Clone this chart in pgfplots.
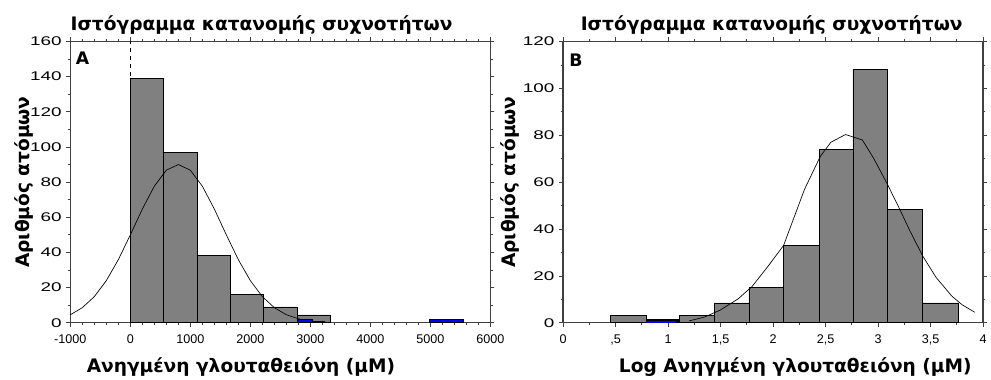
\documentclass[border=0pt]{standalone}
\usepackage{pgfplots}
\pgfplotsset{compat=1.18}
\usepackage{fontspec}
\usepackage{graphicx}
\setmainfont{Liberation Sans}
\newfontfamily\dejavu{DejaVu Sans}
\newcommand\sx[1]{\scalebox{1.5}[1]{#1}}
\newcommand\hfont{\dejavu\bfseries\fontsize{14}{15}\selectfont}
\definecolor{bargray}{HTML}{808080}
\definecolor{axgray}{HTML}{404040}
\pgfplotsset{
  hist/.style={
    scale only axis, width=316.5pt, height=212pt,
    axis line style={line width=0.9pt, axgray},
    tick align=outside, major tick length=3pt, minor tick length=1.8pt,
    every tick/.style={axgray, line width=0.6pt},
    tick label style={font=\fontsize{9.5}{10}\selectfont},
    xticklabel style={yshift=-2.5pt},
    ymin=0,
    clip=false,
  },
  gbar/.style={ybar interval, fill=bargray, draw=black, line width=0.5pt},
}
\begin{document}
\begin{tikzpicture}
\path (0pt,0pt) rectangle (743.25pt,285.75pt);
% ---------------- Panel A ----------------
\begin{axis}[hist, at={(53pt,42.5pt)}, anchor=south west,
  xmin=-1000, xmax=6000, ymax=160,
  xtick={-1000,0,1000,2000,3000,4000,5000,6000},
  xticklabels={-1000,0,1000,2000,3000,4000,5000,6000},
  minor x tick num=4,
  ytick={0,20,40,60,80,100,120,140,160},
  yticklabels={\sx{0},\sx{20},\sx{40},\sx{60},\sx{80},\sx{100},\sx{120},\sx{140},\sx{160}},
  minor y tick num=1,
]
\addplot[black, dashed, line width=0.6pt] coordinates {(0,0) (0,160)};
\addplot[gbar] coordinates {(0,139) (555,97) (1110,38.5) (1665,16) (2220,9) (2775,4.5) (3330,0)};
\addplot[ybar interval, fill=blue, draw=black, line width=0.5pt] coordinates {(2775,1.8) (3025,0)};
\addplot[ybar interval, fill=black, draw=black, line width=0.5pt] coordinates {(3025,0.9) (3230,0)};
\addplot[ybar interval, fill=blue, draw=black, line width=0.5pt] coordinates {(4980,2) (5555,0)};
\addplot[black, line width=0.5pt] coordinates {
 (-1000,4.6) (-800,8.6) (-600,14.9) (-400,24.0) (-200,35.9) (0,50.0) (200,64.7)
 (400,77.7) (600,86.8) (800,90) (1000,86.8) (1200,77.7) (1400,64.7) (1600,50.0)
 (1800,35.9) (2000,24.0) (2200,14.9) (2400,8.6) (2600,4.6) (2800,2.3) (2900,1.6)};
\node[anchor=north west, inner sep=0pt, font=\dejavu\bfseries\fontsize{13}{13}\selectfont] at ([xshift=4pt,yshift=-7.5pt]axis description cs:0,1) {A};
\node[anchor=base west, inner sep=0pt, font=\hfont] at ([yshift=8.2pt]axis description cs:0,1) {Ιστόγραμμα κατανομής συχνοτήτων};
\node[anchor=base west, inner sep=0pt, font=\hfont] at ([yshift=-37.25pt]axis description cs:0.0386,0) {Ανηγμένη γλουταθειόνη (μM)};
\node[anchor=base, rotate=90, inner sep=0pt, font=\hfont] at ([xshift=-31pt]axis description cs:0,0.5) {Αριθμός ατόμων};
\end{axis}
% ---------------- Panel B ----------------
\begin{axis}[hist, at={(424.3pt,42.5pt)}, anchor=south west,
  xmin=0, xmax=4, ymax=120,
  xtick={0,0.5,1,1.5,2,2.5,3,3.5,4},
  xticklabels={0,{,5},1,{1,5},2,{2,5},3,{3,5},4},
  minor x tick num=1,
  ytick={0,20,40,60,80,100,120},
  yticklabels={\sx{0},\sx{20},\sx{40},\sx{60},\sx{80},\sx{100},\sx{120}},
  minor y tick num=1,
]
\addplot[gbar] coordinates {(0.45,3.3) (0.79,0)};
\addplot[ybar interval, fill=black, draw=black, line width=0.5pt] coordinates {(0.79,1.3) (1.11,0)};
\addplot[ybar interval, fill=blue, draw=none] coordinates {(0.79,0.9) (1.08,0)};
\addplot[gbar] coordinates {(1.11,3.3) (1.44,8.5) (1.77,15) (2.10,33) (2.44,74) (2.76,108) (3.09,48.5) (3.425,8.5) (3.765,0)};
\addplot[black, line width=0.5pt] coordinates {
 (1.2,0.8) (1.35,2.5) (1.5,5.5) (1.667,10.2) (1.8,15.5) (1.95,24) (2.1,33) (2.3,57)
 (2.45,71) (2.55,77) (2.69,80.3) (2.85,78) (2.96,70) (3.09,59) (3.2,49) (3.3,39.5)
 (3.425,28.5) (3.55,19.5) (3.7,11.5) (3.8,7.7) (3.92,4.5)};
\node[anchor=north west, inner sep=0pt, font=\dejavu\bfseries\fontsize{13}{13}\selectfont] at ([xshift=4.5pt,yshift=-9.5pt]axis description cs:0,1) {B};
\node[anchor=base west, inner sep=0pt, font=\hfont] at ([yshift=8.2pt]axis description cs:0.0416,1) {Ιστόγραμμα κατανομής συχνοτήτων};
\node[anchor=base west, inner sep=0pt, font=\hfont] at ([yshift=-37.25pt]axis description cs:0.1325,0) {Log Ανηγμένη γλουταθειόνη (μM)};
\node[anchor=base, rotate=90, inner sep=0pt, font=\hfont] at ([xshift=-36pt]axis description cs:0,0.5) {Αριθμός ατόμων};
\end{axis}
\end{tikzpicture}
\end{document}
